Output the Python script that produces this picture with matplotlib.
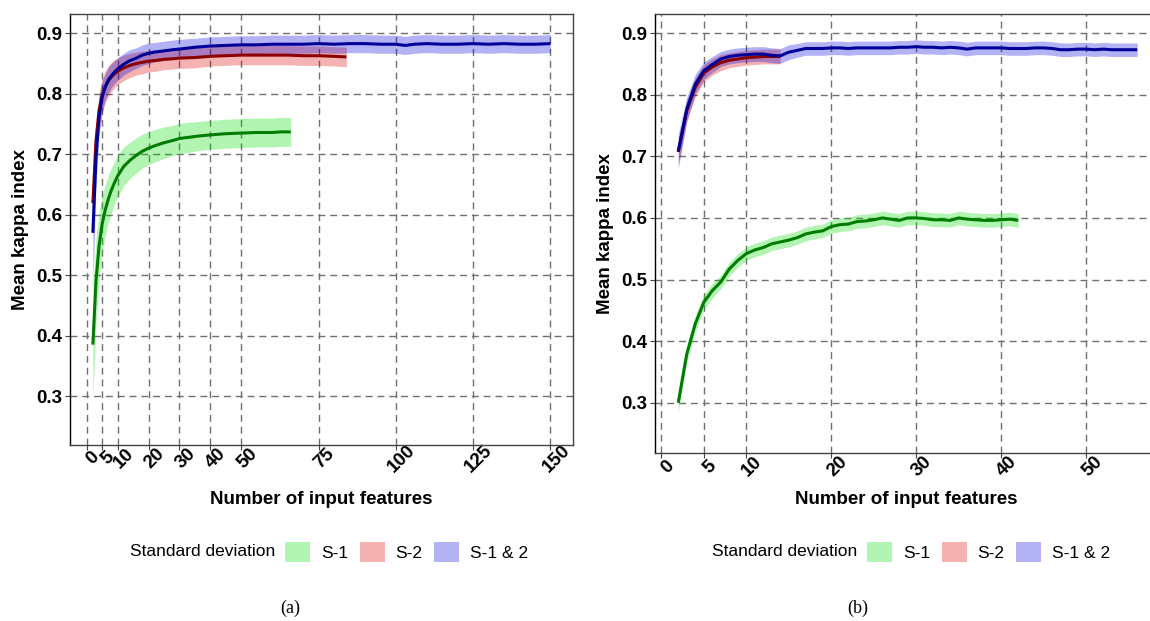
import matplotlib
matplotlib.use('Agg')
import matplotlib.pyplot as plt
import matplotlib.transforms as mtransforms
from matplotlib.patches import Patch

plt.rcParams['font.family'] = ['Liberation Sans', 'DejaVu Sans']

### DATA
# (a) left panel
a_x_s1 = [2, 3, 4, 5, 6, 7, 8, 9, 10, 12, 14, 16, 18, 20, 22, 25, 28, 30, 33, 36, 40, 45, 50, 55, 60, 63, 66]
a_s1 = [0.385, 0.490, 0.548, 0.585, 0.608, 0.626, 0.641, 0.653, 0.664, 0.680, 0.690, 0.698, 0.705, 0.710,
        0.714, 0.719, 0.723, 0.726, 0.728, 0.730, 0.732, 0.734, 0.735, 0.736, 0.736, 0.737, 0.737]
a_s1_sd = [0.090, 0.070, 0.055, 0.047, 0.042, 0.039, 0.037, 0.035, 0.034, 0.032, 0.030, 0.029, 0.028, 0.027,
           0.027, 0.026, 0.025, 0.025, 0.025, 0.024, 0.024, 0.024, 0.024, 0.024, 0.024, 0.024, 0.024]

a_x_s2 = [2, 3, 4, 5, 6, 7, 8, 9, 10, 12, 14, 16, 18, 20, 22, 25, 28, 30, 35, 40, 45, 50, 55, 60, 65, 70, 75, 80, 84]
a_s2 = [0.619, 0.722, 0.772, 0.797, 0.812, 0.821, 0.828, 0.833, 0.837, 0.843, 0.847, 0.850, 0.852, 0.854,
        0.855, 0.857, 0.858, 0.859, 0.860, 0.862, 0.863, 0.864, 0.864, 0.864, 0.864, 0.863, 0.863, 0.862, 0.861]
a_s2_sd = [0.045, 0.035, 0.030, 0.028, 0.026, 0.025, 0.024, 0.023, 0.022, 0.021, 0.020, 0.019, 0.019, 0.018,
           0.018, 0.017, 0.017, 0.017, 0.017, 0.016, 0.016, 0.016, 0.016, 0.016, 0.016, 0.016, 0.016, 0.016, 0.016]

a_x_s12 = [2, 3, 4, 5, 6, 7, 8, 9, 10, 12, 14, 16, 18, 20, 22, 25, 28, 30, 35, 40, 45, 50, 55, 60, 65, 70,
           75, 80, 85, 90, 95, 100, 103, 106, 110, 115, 120, 125, 130, 135, 140, 145, 150]
a_s12 = [0.570, 0.695, 0.762, 0.795, 0.811, 0.823, 0.830, 0.836, 0.841, 0.849, 0.855, 0.859, 0.864, 0.867,
         0.869, 0.871, 0.873, 0.874, 0.877, 0.879, 0.880, 0.881, 0.881, 0.882, 0.882, 0.882, 0.883, 0.882,
         0.883, 0.883, 0.882, 0.882, 0.880, 0.882, 0.883, 0.882, 0.882, 0.883, 0.882, 0.883, 0.882, 0.882, 0.883]
a_s12_sd = [0.090, 0.050, 0.032, 0.026, 0.022, 0.021, 0.020, 0.019, 0.019, 0.018, 0.018, 0.017, 0.017, 0.017,
            0.016, 0.016, 0.016, 0.016, 0.015, 0.015, 0.015, 0.015, 0.015, 0.015, 0.015, 0.015, 0.015, 0.015,
            0.015, 0.015, 0.015, 0.015, 0.015, 0.015, 0.015, 0.015, 0.015, 0.015, 0.015, 0.015, 0.015, 0.015, 0.015]

a_xticks = [0, 5, 10, 20, 30, 40, 50, 75, 100, 125, 150]

# (b) right panel
b_x_s1 = list(range(2, 43))
b_s1 = [0.300, 0.379, 0.428, 0.463, 0.482, 0.496, 0.517, 0.531, 0.542, 0.548, 0.552, 0.558, 0.561, 0.564,
        0.568, 0.574, 0.577, 0.579, 0.586, 0.589, 0.590, 0.594, 0.595, 0.597, 0.600, 0.598, 0.596, 0.600,
        0.600, 0.599, 0.597, 0.597, 0.596, 0.600, 0.598, 0.597, 0.596, 0.596, 0.597, 0.598, 0.596]
b_s1_sd = [0.014, 0.014, 0.013, 0.012, 0.012, 0.011, 0.011, 0.011, 0.011, 0.011, 0.011, 0.011, 0.011, 0.011,
           0.011, 0.011, 0.011, 0.011, 0.011, 0.011, 0.011, 0.011, 0.011, 0.011, 0.011, 0.011, 0.011, 0.011,
           0.011, 0.011, 0.011, 0.011, 0.011, 0.011, 0.011, 0.011, 0.011, 0.011, 0.011, 0.011, 0.011]

b_x_s2 = list(range(2, 15))
b_s2 = [0.707, 0.774, 0.812, 0.835, 0.845, 0.852, 0.856, 0.858, 0.860, 0.861, 0.862, 0.862, 0.862]
b_s2_sd = [0.020, 0.017, 0.015, 0.014, 0.013, 0.013, 0.012, 0.012, 0.012, 0.012, 0.012, 0.012, 0.012]

b_x_s12 = list(range(2, 57))
b_s12 = [0.708, 0.776, 0.817, 0.839, 0.849, 0.858, 0.862, 0.864, 0.865, 0.866, 0.866, 0.864, 0.863, 0.869,
         0.872, 0.875, 0.875, 0.875, 0.876, 0.876, 0.875, 0.876, 0.876, 0.876, 0.876, 0.876, 0.877, 0.877,
         0.878, 0.877, 0.877, 0.876, 0.877, 0.876, 0.874, 0.876, 0.876, 0.876, 0.876, 0.875, 0.875, 0.875,
         0.876, 0.876, 0.875, 0.873, 0.873, 0.874, 0.874, 0.873, 0.874, 0.873, 0.873, 0.873, 0.873]
b_s12_sd = [0.028, 0.020, 0.016, 0.014, 0.013, 0.012, 0.012, 0.012, 0.012, 0.012, 0.012, 0.012, 0.012, 0.012,
            0.011, 0.011, 0.011, 0.011, 0.011, 0.011, 0.011, 0.011, 0.011, 0.011, 0.011, 0.011, 0.011, 0.011,
            0.011, 0.011, 0.011, 0.011, 0.011, 0.011, 0.011, 0.011, 0.011, 0.011, 0.011, 0.011, 0.011, 0.011,
            0.011, 0.011, 0.011, 0.011, 0.011, 0.011, 0.011, 0.011, 0.011, 0.011, 0.011, 0.011, 0.011]

b_xticks = [0, 5, 10, 20, 30, 40, 50]
yticks = [0.3, 0.4, 0.5, 0.6, 0.7, 0.8, 0.9]

series_names = ['S-1', 'S-2', 'S-1 & 2']
fill_colors = ['#00DC00', '#DC0000', '#0000DC']
line_colors = ['#007D00', '#8B0000', '#000099']

W, H = 1150, 621  # output size in pixels


### PLOTTING
def plot_panel(ax, series, xticks, xlim, ylim, box, ylabel_x):
    # box = (left, top, right, bottom) of the axes in pixels, used to place the axis titles
    left, top, right, bottom = box
    ax.set_axisbelow(True)
    for (x, m, sd), fc, lc in zip(series, fill_colors, line_colors):
        lo = [v - s for v, s in zip(m, sd)]
        hi = [v + s for v, s in zip(m, sd)]
        ax.fill_between(x, lo, hi, color=fc, alpha=0.3, linewidth=0)
        ax.plot(x, m, color=lc, linewidth=2.2, solid_capstyle='butt')

    ax.set_xlim(*xlim)
    ax.set_ylim(*ylim)
    ax.set_yticks(yticks)
    ax.set_yticklabels([f'{t:.1f}' for t in yticks], fontsize=13.5, fontweight='bold')
    ax.set_xticks(xticks)
    ax.set_xticklabels([str(t) for t in xticks], fontsize=13.5, fontweight='bold')

    ax.grid(True, color='#707070', linewidth=1.0, linestyle=(0, (5, 3.5)))
    ax.tick_params(length=3.5, width=0.8, color='#444444', labelcolor='black', pad=2)
    for side in ['top', 'right', 'bottom']:
        ax.spines[side].set_color('#444444')
        ax.spines[side].set_linewidth(1.0)
    ax.spines['left'].set_color('black')
    ax.spines['left'].set_linewidth(1.0)

    # ggplot-style rotated labels: rotated about their centre, a bit below the axis
    # (done after tick_params, which would reset the label transforms)
    offset = mtransforms.ScaledTranslation(0.06, -0.135, ax.figure.dpi_scale_trans)
    for lab in ax.get_xticklabels():
        lab.set_rotation(45)
        lab.set_rotation_mode('anchor')
        lab.set_ha('center')
        lab.set_va('center')
        lab.set_transform(ax.get_xaxis_transform() + offset)
        lab.set_y(0)

    ax.set_xlabel('Number of input features', fontsize=13.5, fontweight='bold', va='center')
    ax.set_ylabel('Mean kappa index', fontsize=13.5, fontweight='bold', va='center')
    ax.xaxis.set_label_coords(0.5, (bottom - 500) / (bottom - top))
    ax.yaxis.set_label_coords((ylabel_x - left) / (right - left), 0.5)


def add_legend(fig, x_text):
    fig.text(x_text / W, 1 - 552 / H, 'Standard deviation', fontsize=12.5, ha='right', va='center')
    handles = [Patch(facecolor=c, alpha=0.3, edgecolor='none') for c in fill_colors]
    fig.legend(handles, series_names, loc='center left', bbox_to_anchor=((x_text + 10) / W, 1 - 552 / H),
               ncol=3, frameon=False, fontsize=12.5, handlelength=1.45, handleheight=1.45,
               handletextpad=0.63, columnspacing=0.65, borderpad=0, borderaxespad=0)


if __name__ == '__main__':
    fig = plt.figure(figsize=(11.5, 6.21), dpi=100)

    ax_a = fig.add_axes([70 / W, 1 - 445 / H, 503.3 / W, 431 / H])
    plot_panel(ax_a,
               [(a_x_s1, a_s1, a_s1_sd), (a_x_s2, a_s2, a_s2_sd), (a_x_s12, a_s12, a_s12_sd)],
               a_xticks, (-5.4, 157.4), (0.219, 0.932), (70, 14, 573.3, 445), 21)

    ax_b = fig.add_axes([655.3 / W, 1 - 453.3 / H, 502.3 / W, 439.3 / H])
    plot_panel(ax_b,
               [(b_x_s1, b_s1, b_s1_sd), (b_x_s2, b_s2, b_s2_sd), (b_x_s12, b_s12, b_s12_sd)],
               b_xticks, (-0.7, 58.4), (0.218, 0.931), (655.3, 14, 1157.6, 453.3), 605)

    add_legend(fig, 275)
    add_legend(fig, 857)

    fig.text(290 / W, 1 - 608 / H, '(a)', fontsize=13, family=['Liberation Serif', 'DejaVu Serif'],
             ha='center', va='center')
    fig.text(858 / W, 1 - 608 / H, '(b)', fontsize=13, family=['Liberation Serif', 'DejaVu Serif'],
             ha='center', va='center')

    fig.savefig('out.png', dpi=100)
